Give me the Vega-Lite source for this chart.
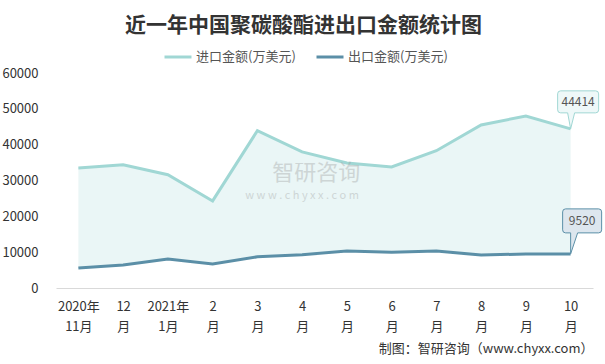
{
  "$schema": "https://vega.github.io/schema/vega-lite/v6.json",
  "width": 537,
  "height": 215,
  "autosize": {"type": "none"},
  "padding": {"left": 56, "top": 73, "right": 12, "bottom": 76},
  "background": "white",
  "config": {
    "font": "Noto Sans CJK SC",
    "view": {"stroke": null},
    "axis": {"labelOverlap": false, "labelBound": false, "labelSeparation": 0}
  },
  "title": {"text": "近一年中国聚碳酸酯进出口金额统计图", "fontSize": 21, "fontWeight": "bold", "color": "#333333", "anchor": "middle", "frame": "group", "dx": -21, "offset": 6},
  "datasets": {
    "trade": [
      {"month": "2020年|11月", "import": 33500, "export": 5600},
      {"month": "12|月", "import": 34400, "export": 6400},
      {"month": "2021年|1月", "import": 31600, "export": 8100},
      {"month": "2|月", "import": 24300, "export": 6700},
      {"month": "3|月", "import": 43900, "export": 8700},
      {"month": "4|月", "import": 38000, "export": 9300},
      {"month": "5|月", "import": 34900, "export": 10300},
      {"month": "6|月", "import": 33800, "export": 10000},
      {"month": "7|月", "import": 38300, "export": 10300},
      {"month": "8|月", "import": 45500, "export": 9200},
      {"month": "9|月", "import": 48000, "export": 9500},
      {"month": "10|月", "import": 44414, "export": 9520}
    ],
    "mark": [
      {"month": "4|月", "value": 32000, "text": "智研咨询"},
      {"month": "4|月", "value": 25800, "text": "w w w . c h y x x . c o m"}
    ]
  },
  "data": {"name": "trade"},
  "layer": [
    {
      "mark": {"type": "area", "color": "#EAF6F6", "opacity": 1},
      "encoding": {
        "x": {
          "field": "month", "type": "nominal", "sort": null,
          "axis": {
            "labelExpr": "split(datum.label, '|')",
            "labelAngle": 0, "labelFontSize": 13, "labelColor": "#333333",
            "labelLineHeight": 20, "labelPadding": 12, "ticks": false, "grid": false,
            "domainColor": "#d9d9d9", "domainWidth": 1,
            "title": "制图：智研咨询（www.chyxx.com）", "titleAnchor": "end", "titleAlign": "right",
            "titleFontSize": 13, "titleFontWeight": "normal", "titleColor": "#333333", "titlePadding": 9
          }
        },
        "y": {
          "field": "import", "type": "quantitative",
          "scale": {"domain": [0, 60000], "nice": false},
          "axis": {
            "values": [0, 10000, 20000, 30000, 40000, 50000, 60000],
            "tickCount": 12,
            "labelExpr": "'' + datum.value",
            "labelOverlap": false, "labelBound": false, "labelSeparation": 0,
            "labelFontSize": 13, "labelColor": "#333333", "labelPadding": 18,
            "domain": false, "ticks": false, "grid": false, "title": null
          }
        },
        "y2": {"field": "export"}
      }
    },
    {
      "transform": [{"fold": ["import", "export"], "as": ["series", "value"]}],
      "mark": {"type": "line", "strokeWidth": 3},
      "encoding": {
        "x": {"field": "month", "type": "nominal", "sort": null},
        "y": {"field": "value", "type": "quantitative"},
        "color": {
          "field": "series", "type": "nominal",
          "scale": {"domain": ["import", "export"], "range": ["#A0D7D4", "#5B8FA7"]},
          "legend": {
            "orient": "none", "legendX": 107, "legendY": -31, "title": null, "direction": "horizontal",
            "symbolType": "stroke", "symbolSize": 729, "symbolStrokeWidth": 3,
            "labelFontSize": 13, "labelColor": "#555555", "labelOffset": 3,
            "columnPadding": 14,
            "labelExpr": "datum.value == 'import' ? '进口金额(万美元)' : '出口金额(万美元)'"
          }
        }
      }
    },
    {
      "transform": [{"filter": "datum.month == '10|月'"}],
      "mark": {
        "type": "point", "filled": true, "opacity": 1, "size": 4,
        "shape": "M0,0 L-3,-16 L-10,-16 Q-13,-16 -13,-19 L-13,-35 Q-13,-38 -10,-38 L25,-38 Q28,-38 28,-35 L28,-19 Q28,-16 25,-16 L4,-16 Z",
        "fill": "#EEF8F8", "stroke": "#A0D7D4", "strokeWidth": 1
      },
      "encoding": {
        "x": {"field": "month", "type": "nominal", "sort": null},
        "y": {"field": "import", "type": "quantitative"}
      }
    },
    {
      "transform": [{"filter": "datum.month == '10|月'"}],
      "mark": {"type": "text", "dx": 7.5, "dy": -27, "fontSize": 12, "color": "#555555", "baseline": "middle", "align": "center"},
      "encoding": {
        "x": {"field": "month", "type": "nominal", "sort": null},
        "y": {"field": "import", "type": "quantitative"},
        "text": {"field": "import", "type": "quantitative", "format": "d"}
      }
    },
    {
      "transform": [{"filter": "datum.month == '10|月'"}],
      "mark": {
        "type": "point", "filled": true, "opacity": 1, "size": 4,
        "shape": "M0,0 L7,-21 L28,-21 Q31,-21 31,-24 L31,-42 Q31,-45 28,-45 L-5,-45 Q-8,-45 -8,-42 L-8,-24 Q-8,-21 -5,-21 L0,-21 Z",
        "fill": "#DDE6EE", "stroke": "#5B8FA7", "strokeWidth": 1
      },
      "encoding": {
        "x": {"field": "month", "type": "nominal", "sort": null},
        "y": {"field": "export", "type": "quantitative"}
      }
    },
    {
      "transform": [{"filter": "datum.month == '10|月'"}],
      "mark": {"type": "text", "dx": 11.5, "dy": -33, "fontSize": 12, "color": "#555555", "baseline": "middle", "align": "center"},
      "encoding": {
        "x": {"field": "month", "type": "nominal", "sort": null},
        "y": {"field": "export", "type": "quantitative"},
        "text": {"field": "export", "type": "quantitative", "format": "d"}
      }
    },
    {
      "data": {"name": "mark"},
      "mark": {"type": "text", "fontSize": 22, "color": "#999999", "opacity": 0.35, "baseline": "middle", "align": "center", "dx": 14},
      "transform": [{"filter": "datum.text == '智研咨询'"}],
      "encoding": {
        "x": {"field": "month", "type": "nominal", "sort": null},
        "y": {"field": "value", "type": "quantitative"},
        "text": {"field": "text"}
      }
    },
    {
      "data": {"name": "mark"},
      "mark": {"type": "text", "fontSize": 11, "color": "#999999", "opacity": 0.35, "baseline": "middle", "align": "center"},
      "transform": [{"filter": "datum.text != '智研咨询'"}],
      "encoding": {
        "x": {"field": "month", "type": "nominal", "sort": null},
        "y": {"field": "value", "type": "quantitative"},
        "text": {"field": "text"}
      }
    }
  ]
}
